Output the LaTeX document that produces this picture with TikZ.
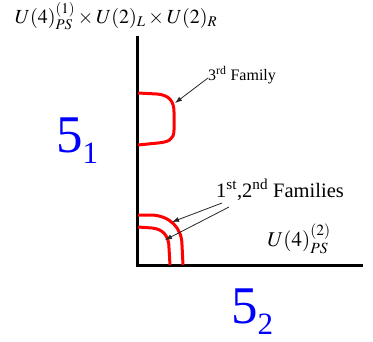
\documentclass[tikz,border=0pt]{standalone}
\usepackage{mathptmx}
\usepackage{fontspec}
\setmainfont{Liberation Serif}
\newfontfamily\numfont{Liberation Serif}
\usetikzlibrary{arrows.meta}
\tikzset{
  axis/.style={line width=3pt, line join=miter},
  fam/.style={red, line width=3pt},
  ptr/.style={draw=black!85, line width=0.8pt, -{Latex[length=7pt,width=5pt]}},
  big/.style={blue, font=\numfont\fontsize{53}{57}\selectfont, inner sep=0pt},
  lbl/.style={inner sep=0pt}
}
\newcommand{\subdig}[1]{\raisebox{-11pt}{\numfont\fontsize{31}{34}\selectfont #1}}
\begin{document}
\begin{tikzpicture}[x=1pt,y=-1pt]
\useasboundingbox (0,0) rectangle (373,341);
% axes
\coordinate (ytop) at (137,36);
\coordinate (orig) at (137,265);
\coordinate (xend) at (363,265);
\draw[axis] (ytop) -- (orig) -- (xend);
% 3rd family
\draw[fam] (138,93) -- (157,94) .. controls (169,95) and (174,101) .. (174,112) -- (174,130) .. controls (174,140) and (168,142) .. (158,143) -- (138,145);
% 1st, 2nd families
\draw[fam] (138,215) -- (152,215) .. controls (170,216) and (182,228) .. (182,245) -- (183,265);
\draw[fam] (138,227) -- (152,228) .. controls (163,229) and (169,236) .. (169,248) -- (170,265);
% labels
\node[lbl, font=\fontsize{20}{22}\selectfont] (top) at (116,16) {$U(4)^{(1)}_{PS}\times U(2)_L\times U(2)_R$};
\node[lbl, anchor=base west, font=\fontsize{16}{18}\selectfont] (f3) at (208,80) {3\textsuperscript{rd} Family};
\node[lbl, anchor=base west, font=\fontsize{20.5}{22}\selectfont] (f12) at (216,197) {1\textsuperscript{st},2\textsuperscript{nd} Families};
\node[lbl, font=\fontsize{21}{23}\selectfont] (u2) at (299,239) {$U(4)^{(2)}_{PS}$};
\node[big, anchor=base west] (s1) at (56,152) {5\subdig{1}};
\node[big, anchor=base west] (s2) at (231,323) {5\subdig{2}};
% arrows
\coordinate (a3s) at (208,78);
\coordinate (a3t) at (175,103);
\coordinate (a1s) at (222,203);
\coordinate (a1t) at (172,222);
\coordinate (a2s) at (229,207);
\coordinate (a2t) at (165,240);
\draw[ptr] (a3s) -- (a3t);
\draw[ptr] (a1s) -- (a1t);
\draw[ptr] (a2s) -- (a2t);
\end{tikzpicture}
\end{document}
